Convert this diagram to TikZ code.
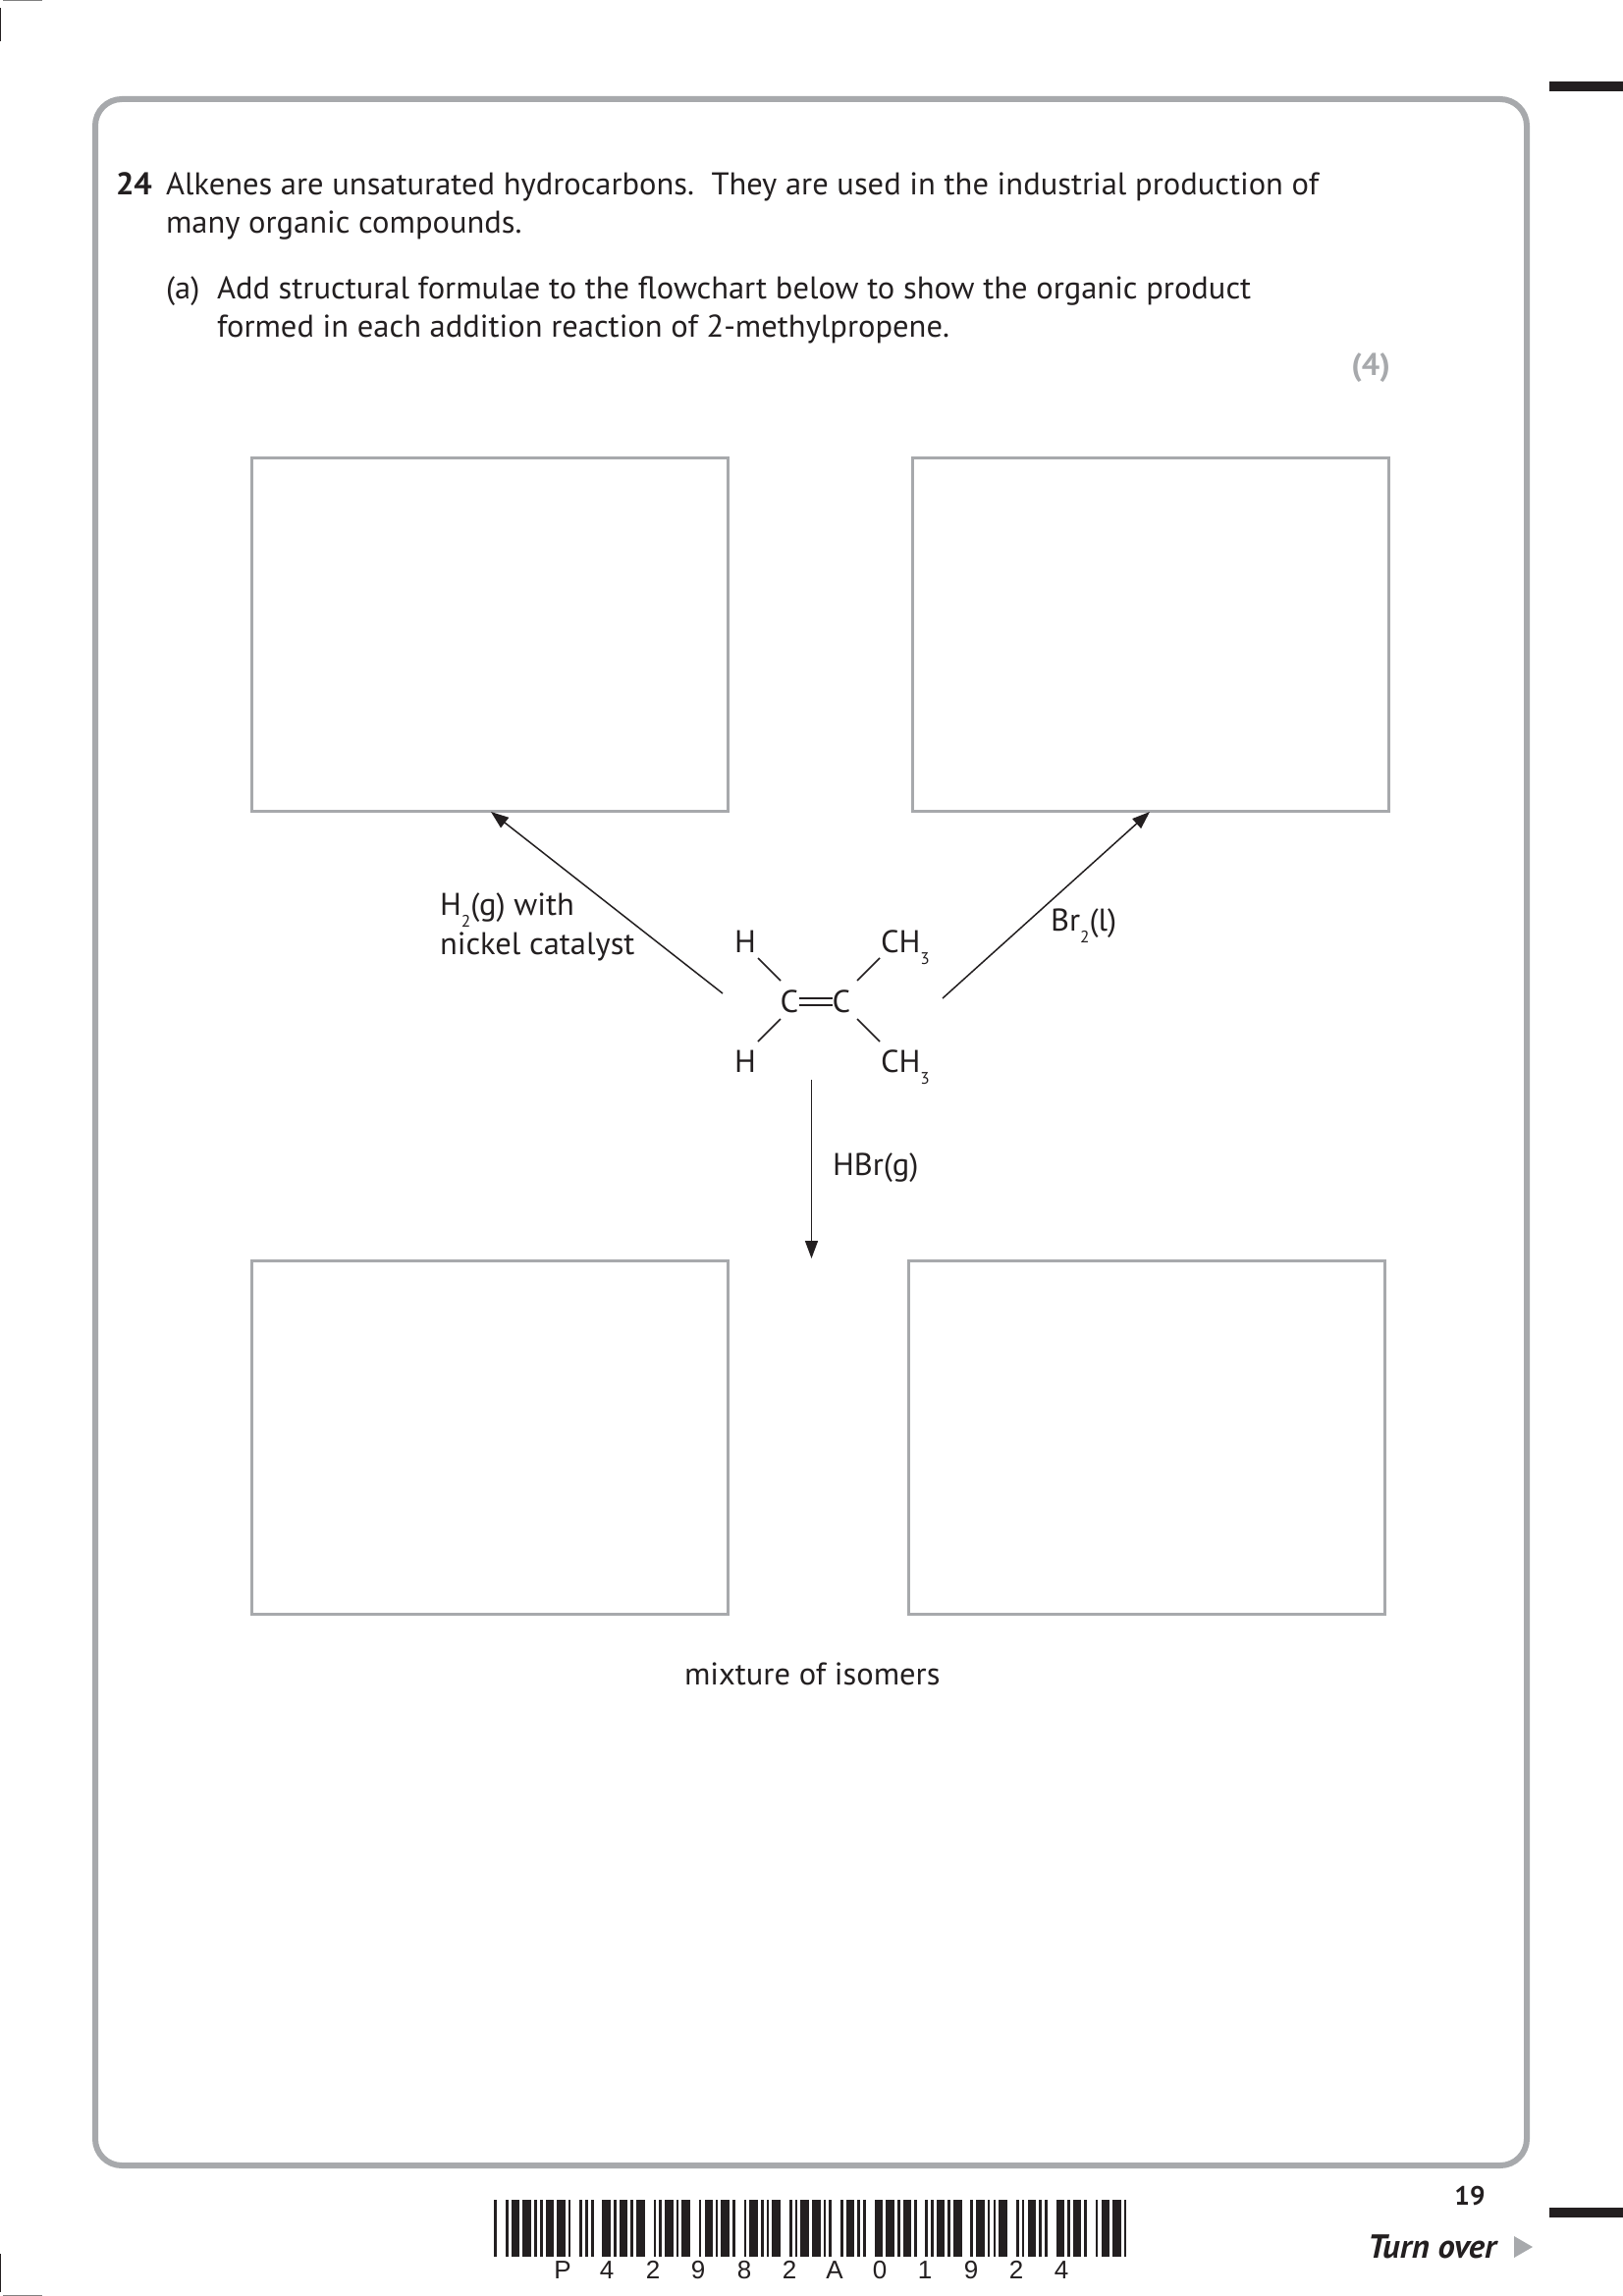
\documentclass[tikz,border=0pt]{standalone}
\usepackage{fontspec}
\usetikzlibrary{arrows.meta}
\setmainfont[FakeStretch=1.017]{PT Sans}
\newfontfamily\barfont{Liberation Sans}
\definecolor{ink}{HTML}{231F20}
\definecolor{framegray}{HTML}{A7A9AC}
\newcommand{\bodysize}{\fontsize{32}{39}\selectfont}
\newcommand{\subsc}[1]{\raisebox{-12pt}{\fontsize{17}{17}\selectfont #1}}
\tikzset{
  txt/.style={anchor=base west,inner sep=0pt,outer sep=0pt,text=ink,font=\bodysize},
  ctxt/.style={txt,anchor=base},
  ansbox/.style={draw=framegray,line width=3pt,inner sep=0pt,fill=none},
  bond/.style={draw=ink,line width=1.5pt},
  rxn/.style={draw=ink,line width=1.5pt,-{Triangle[length=18pt,width=13pt]}},
  code/.style={anchor=base,inner sep=0pt,text=ink,font=\barfont\fontsize{26}{26}\selectfont}
}
\begin{document}
\begin{tikzpicture}[x=1pt,y=-1pt]
\useasboundingbox (0,0) rectangle (1653,2339);
\fill[white] (0,0) rectangle (1653,2339);
% frame and printer's marks
\draw[framegray,line width=6pt,rounded corners=27pt] (97,101) rectangle (1555,2206);
\fill[ink] (1578,83) rectangle (1653,93);
\fill[ink] (1578,2249) rectangle (1653,2259);
\fill[ink] (0,8) rectangle (1,42);
\fill[gray] (3,0) rectangle (43,1.5);
\fill[ink] (0,2296) rectangle (1,2335);
\fill[gray] (3,2337.5) rectangle (43,2339);
% question text
\node[txt,font=\bodysize\bfseries] (qn) at (118,198) {24};
\node[txt] (q1) at (169,198) {Alkenes are unsaturated hydrocarbons.\ \ They are used in the industrial production of};
\node[txt] (q2) at (169,237) {many organic compounds.};
\node[txt] (pa) at (169,304) {(a)};
\node[txt] (a1) at (221,304) {Add structural formulae to the flowchart below to show the organic product};
\node[txt] (a2) at (221,343) {formed in each addition reaction of 2-methylpropene.};
\node[txt,anchor=base east,text=framegray,font=\bodysize\bfseries] (mk) at (1416,382) {(4)};
% answer boxes
\node[ansbox,minimum width=485pt,minimum height=360pt] (tl) at (498.5,646) {};
\node[ansbox,minimum width=485pt,minimum height=360pt] (tr) at (1171.5,646) {};
\node[ansbox,minimum width=485pt,minimum height=360pt] (bl) at (498.5,1464) {};
\node[ansbox,minimum width=485pt,minimum height=360pt] (br) at (1167.5,1464) {};
% molecule
\node[ctxt] (c1) at (804,1031) {C};
\node[ctxt] (c2) at (857,1031) {C};
\node[ctxt] (h1) at (759,970) {H};
\node[ctxt] (h2) at (759,1092) {H};
\node[txt] (m1) at (897,970) {CH\subsc{3}};
\node[txt] (m2) at (897,1092) {CH\subsc{3}};
\coordinate (h1a) at (772,976); \coordinate (h1b) at (795,999);
\coordinate (m1a) at (896,976); \coordinate (m1b) at (873,999);
\coordinate (h2a) at (772,1061); \coordinate (h2b) at (795,1038);
\coordinate (m2a) at (896,1061); \coordinate (m2b) at (873,1038);
\coordinate (d1a) at (814,1017); \coordinate (d1b) at (848,1017);
\coordinate (d2a) at (814,1024); \coordinate (d2b) at (848,1024);
\draw[bond] (h1a) -- (h1b);
\draw[bond] (m1a) -- (m1b);
\draw[bond] (h2a) -- (h2b);
\draw[bond] (m2a) -- (m2b);
\draw[bond] (d1a) -- (d1b);
\draw[bond] (d2a) -- (d2b);
% reaction arrows
\coordinate (la) at (736,1012); \coordinate (lb) at (500,827);
\coordinate (ra) at (960,1017); \coordinate (rb) at (1171,827);
\coordinate (da) at (826.5,1100); \coordinate (db) at (826.5,1282);
\draw[rxn] (la) -- (lb);
\draw[rxn] (ra) -- (rb);
\draw[rxn] (da) -- (db);
% labels
\node[txt] (l1) at (448,932) {H\subsc{2}(g) with};
\node[txt] (l2) at (448,972) {nickel catalyst};
\node[txt] (l3) at (1070,948) {Br\subsc{2}(l)};
\node[txt] (l4) at (848,1197) {HBr(g)};
\node[txt] (l5) at (697,1716) {mixture of isomers};
% footer
\node[ctxt,font=\fontsize{27}{27}\selectfont\bfseries] (pg) at (1497,2246) {19};
\node[txt,font=\fontsize{34}{39}\selectfont\bfseries\itshape] (to) at (1393,2300) {Turn over};
\fill[framegray] (1542,2278) -- (1542,2300) -- (1561,2289) -- cycle;
% barcode
\foreach \a/\b in {503.3/506,515/517.7,520.7/529.3,532.3/541,544/546.7,550/552.7,555.7/564.3,567/575.7,578.7/581.3,590.3/593,596/598.7,602/604.7,613.3/622,625/627.7,630.7/639.3,642.3/645,648.3/656.7,665.7/668.3,671.3/674,677/685.7,688.7/691.3,694.3/702.7,711.7/714.3,717.5/725.7,728.7/731.3,734.3/743,746/748.7,757.7/760.3,763.3/772,775/777.7,780.7/783.3,786.3/795,804/806.7,809.7/812.3,815.3/824,827/835.7,838.7/841.3,844.3/847,856/858.7,861.7/870.3,873.3/876,879/881.7,890.7/899.3,902.3/911,914/916.7,919.7/928.3,931.3/934,942.3/945,948/950.7,953.7/962.3,965.3/968,971/979.7,988.3/991,994/1002.7,1005.7/1008.3,1011.7/1014.3,1017.3/1026,1035/1037.7,1040.7/1043.3,1046.7/1055.3,1058/1060.7,1064/1066.7,1075.7/1084,1087/1089.7,1092.7/1101.3,1104.3/1107,1115.7/1118.3,1121.7/1130.3,1133.3/1142,1144.7/1147.3}
  {\fill[ink] (\a,2241) rectangle (\b,2299);}
\foreach \n/\x/\t in {d0/573/P,d1/618/4,d2/665/2,d3/711/9,d4/758/8,d5/804/2,d6/850/A,d7/896/0,d8/942/1,d9/989/9,d10/1035/2,d11/1081/4}
  {\node[code] (\n) at (\x,2321) {\t};}
\end{tikzpicture}
\end{document}
